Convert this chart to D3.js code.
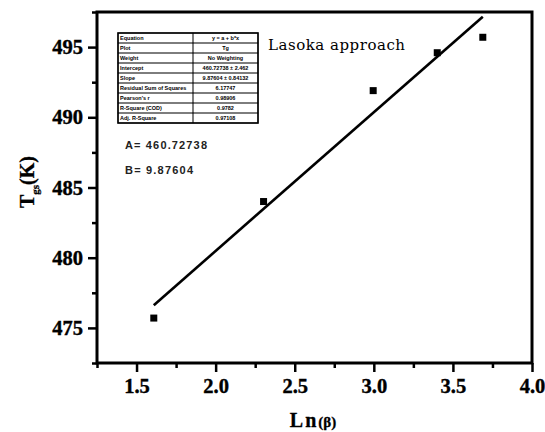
<!DOCTYPE html>
<html>
<head>
<meta charset="utf-8">
<script src="https://cdn.jsdelivr.net/npm/d3@7"></script>
<style>
body{margin:0;background:#fff}
svg{display:block}
</style>
</head>
<body>
<div id="chart"></div>
<script>
// data
let lnBeta=[1.609,2.303,2.996,3.401,3.689]
let tg=[475.7,484.0,491.9,494.6,495.7]
let fitA=460.72738
let fitB=9.87604
let xTicks=[1.5,2.0,2.5,3.0,3.5,4.0]
let yTicks=[475,480,485,490,495]
let tableLabels=["Equation","Plot","Weight","Intercept","Slope","Residual Sum of Squares","Pearson's r","R-Square (COD)","Adj. R-Square"]
let tableValues=["y = a + b*x","Tg","No Weighting","460.72738 ± 2.462","9.87604 ± 0.84132","6.17747","0.98906","0.9782","0.97108"]

let width=545,height=432
let padLeft=97,padRight=532,padTop=12,padBottom=363
let serif="Liberation Serif"

let svg=d3.select("#chart").append("svg").attr("width",width).attr("height",height)

let xScale=d3.scaleLinear().domain([1.25,4.0]).range([padLeft,padRight])
let yScale=d3.scaleLinear().domain([472.5,497.5]).range([padBottom,padTop])

//minor ticks first
let xMinor=d3.axisBottom(xScale).tickValues(d3.range(1.25,4.0,0.5)).tickSize(5).tickFormat("").tickSizeOuter(0)
let yMinor=d3.axisLeft(yScale).tickValues(d3.range(472.5,497.6,5)).tickSize(5).tickFormat("").tickSizeOuter(0)
svg.append("g").attr("transform","translate(0,"+padBottom+")").call(xMinor)
svg.append("g").attr("transform","translate("+padLeft+",0)").call(yMinor)

let axisX=d3.axisBottom(xScale).tickValues(xTicks).tickFormat(d3.format(".1f")).tickSize(9).tickPadding(6).tickSizeOuter(0)
let axisY=d3.axisLeft(yScale).tickValues(yTicks).tickFormat(d3.format("d")).tickSize(9).tickPadding(5).tickSizeOuter(0)
let gx=svg.append("g").attr("transform","translate(0,"+padBottom+")").call(axisX)
let gy=svg.append("g").attr("transform","translate("+padLeft+",0)").call(axisY)
;[gx,gy].forEach(g=>{
    g.attr("font-family",serif).attr("font-size",20.5).attr("font-weight","bold")
    g.selectAll("text").attr("fill","#000").attr("stroke","#000").attr("stroke-width",0.4)
})
svg.selectAll(".tick line").attr("stroke","#000").attr("stroke-width",2.5)
svg.selectAll(".domain").remove()

//frame
svg.append("rect").attr("x",padLeft).attr("y",padTop).attr("width",padRight-padLeft).attr("height",padBottom-padTop)
   .attr("fill","none").attr("stroke","#000").attr("stroke-width",3)

//fit line
let x0=d3.min(lnBeta),x1=d3.max(lnBeta)
svg.append("line").attr("x1",xScale(x0)).attr("y1",yScale(fitA+fitB*x0)).attr("x2",xScale(x1)).attr("y2",yScale(fitA+fitB*x1))
   .attr("stroke","#000").attr("stroke-width",2.6)

//points
svg.selectAll(".pt").data(lnBeta).enter().append("rect").attr("class","pt")
   .attr("x",(d,i)=>xScale(d)-3.5).attr("y",(d,i)=>yScale(tg[i])-3.5).attr("width",7).attr("height",7).attr("fill","#000")

//axis labels
svg.append("text").attr("x",313).attr("y",427).attr("text-anchor","middle")
   .attr("font-family",serif).attr("font-weight","bold").attr("font-size",20).attr("stroke","#000").attr("stroke-width",0.3)
   .html('<tspan letter-spacing="2">Ln</tspan><tspan font-size="15px">(β)</tspan>')
let yl=svg.append("text").attr("transform","translate(34,182) rotate(-90)").attr("text-anchor","middle")
   .attr("font-family",serif).attr("font-weight","bold").attr("font-size",20).attr("stroke","#000").attr("stroke-width",0.3)
yl.append("tspan").text("T")
yl.append("tspan").attr("font-size","11px").attr("dy",5).text("gs")
yl.append("tspan").attr("dy",-5).text("(K)")

//inset table
let tx=118,ty=33,rowH=10,c1=75,c2=65
let table=svg.append("g").attr("font-family","Liberation Sans").attr("font-size",5.5).attr("font-weight","bold")
tableLabels.forEach((lab,i)=>{
    let y=ty+i*rowH
    table.append("rect").attr("x",tx).attr("y",y).attr("width",c1).attr("height",rowH).attr("fill","none").attr("stroke","#000").attr("stroke-width",0.6)
    table.append("rect").attr("x",tx+c1).attr("y",y).attr("width",c2).attr("height",rowH).attr("fill","none").attr("stroke","#000").attr("stroke-width",0.6)
    table.append("text").attr("x",tx+2).attr("y",y+7).text(lab)
    table.append("text").attr("x",tx+c1+c2/2).attr("y",y+7).attr("text-anchor","middle").text(tableValues[i])
})
table.append("rect").attr("x",tx).attr("y",ty).attr("width",c1+c2).attr("height",rowH*tableLabels.length)
   .attr("fill","none").attr("stroke","#000").attr("stroke-width",1.6)

svg.append("text").attr("x",268).attr("y",50).text("Lasoka approach")
   .attr("font-family","DejaVu Serif").attr("font-size",15).attr("textLength",137)

svg.append("text").attr("x",125).attr("y",149).text("A= "+fitA.toFixed(5)).attr("textLength",82)
   .attr("font-family","Liberation Sans").attr("font-size",11).attr("font-weight","bold").attr("fill","#222")
svg.append("text").attr("x",125).attr("y",174).text("B= "+fitB.toFixed(5)).attr("textLength",68)
   .attr("font-family","Liberation Sans").attr("font-size",11).attr("font-weight","bold").attr("fill","#222")
</script>
</body>
</html>
